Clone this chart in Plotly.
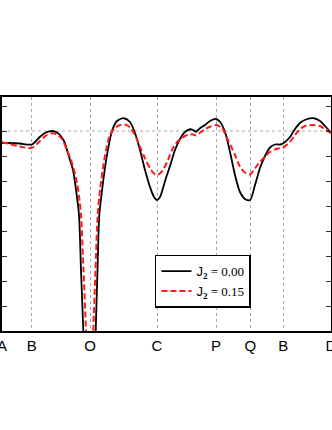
import plotly.graph_objects as go

# k-path (arbitrary path length) and high symmetry points
tick_pos = [0.0, 0.297, 0.88, 1.55, 2.14, 2.483, 2.813, 3.29]
tick_txt = ["A", "B", "O", "C", "P", "Q", "B", "D"]

# J2 = 0.00
k_a = [0.00, 0.08, 0.18, 0.297, 0.38, 0.44, 0.50, 0.54, 0.58, 0.62, 0.65, 0.68, 0.71,
       0.747, 0.77, 0.79, 0.813, 0.84, 0.875, 0.91, 0.937, 0.955, 0.973, 0.995, 1.02,
       1.05, 1.10, 1.15, 1.22, 1.28, 1.33, 1.38, 1.43, 1.48, 1.52, 1.55, 1.58, 1.61,
       1.64, 1.68, 1.73, 1.78, 1.83, 1.88, 1.91, 1.94, 1.98, 2.03, 2.08, 2.14, 2.18,
       2.23, 2.28, 2.33, 2.38, 2.43, 2.48, 2.53, 2.58, 2.63, 2.68, 2.73, 2.78, 2.81,
       2.88, 2.93, 2.98, 3.04, 3.12, 3.18, 3.23, 3.29]
e_a = [7.52, 7.52, 7.50, 7.46, 7.77, 7.94, 8.00, 7.96, 7.84, 7.60, 7.24, 6.84, 6.44,
       5.44, 4.64, 2.44, 0.00, -3.56, -5.96, -3.56, 0.00, 2.44, 4.64, 5.44, 6.24,
       7.04, 8.00, 8.40, 8.51, 8.36, 7.92, 7.24, 6.44, 5.76, 5.36, 5.24, 5.36, 5.72,
       6.12, 6.60, 7.24, 7.68, 7.96, 8.07, 8.04, 7.97, 8.11, 8.24, 8.40, 8.48, 8.37,
       7.96, 7.16, 6.24, 5.56, 5.28, 5.24, 5.84, 6.52, 7.00, 7.34, 7.46, 7.46, 7.50,
       7.76, 8.08, 8.32, 8.46, 8.51, 8.40, 8.20, 7.92]

# J2 = 0.15
k_b = [0.00, 0.08, 0.18, 0.297, 0.38, 0.44, 0.50, 0.55, 0.60, 0.65, 0.69, 0.72, 0.75,
       0.77, 0.79, 0.815, 0.84, 0.86, 0.877, 0.895, 0.913, 0.935, 0.957, 0.98, 1.01,
       1.04, 1.08, 1.13, 1.18, 1.23, 1.28, 1.33, 1.38, 1.43, 1.48, 1.52, 1.55, 1.58,
       1.61, 1.66, 1.70, 1.74, 1.78, 1.83, 1.88, 1.91, 1.94, 1.98, 2.03, 2.08, 2.14,
       2.20, 2.26, 2.33, 2.38, 2.43, 2.48, 2.53, 2.58, 2.63, 2.68, 2.76, 2.81, 2.88,
       2.93, 2.98, 3.03, 3.10, 3.18, 3.23, 3.29]
e_b = [7.55, 7.48, 7.38, 7.33, 7.60, 7.82, 7.91, 7.86, 7.68, 7.24, 6.84, 6.44, 5.92,
       5.40, 4.64, 2.44, 0.00, -2.36, -3.56, -2.36, 0.00, 2.44, 4.64, 5.64, 6.52,
       7.24, 7.84, 8.12, 8.24, 8.26, 8.14, 7.84, 7.37, 6.91, 6.51, 6.30, 6.24, 6.30,
       6.44, 6.84, 7.24, 7.50, 7.67, 7.80, 7.87, 7.86, 7.82, 7.93, 8.07, 8.17, 8.24,
       8.11, 7.64, 7.04, 6.57, 6.33, 6.26, 6.51, 6.77, 6.97, 7.16, 7.30, 7.33, 7.57,
       7.84, 8.07, 8.20, 8.24, 8.20, 8.07, 7.91]

ref_level = 8.0

sans = "Liberation Sans, Arial, sans-serif"
serif = "Liberation Serif, Times New Roman, serif"

def leg_name(val):
    return ("<span style='font-family:" + sans + "'>J</span><sub><b>2</b></sub>"
            "<span style='font-family:" + serif + "'> = " + val + "</span>")

fig = go.Figure()
fig.add_trace(go.Scatter(x=k_a, y=e_a, mode="lines", name=leg_name("0.00"),
                         line=dict(color="black", width=1.8, shape="spline", smoothing=0.8)))
fig.add_trace(go.Scatter(x=k_b, y=e_b, mode="lines", name=leg_name("0.15"),
                         line=dict(color="#ff1a1a", width=2, dash="6px,3px",
                                   shape="spline", smoothing=0.8)))

#reference level
fig.add_hline(y=ref_level, line=dict(color="#a8a8a8", width=1, dash="dot"), layer="below")

fig.update_xaxes(range=[0, 3.29], tickvals=tick_pos, ticktext=tick_txt,
                 showgrid=True, griddash="dot", gridcolor="#a8a8a8", gridwidth=1,
                 showline=True, linecolor="black", linewidth=2, mirror=True,
                 ticks="", zeroline=False, automargin=False,
                 ticklabeloverflow="allow",
                 tickfont=dict(family=sans, size=15, color="black"))
fig.update_yaxes(range=[0, 9.36], dtick=1, tick0=0, showticklabels=False,
                 showgrid=False, zeroline=False, automargin=False,
                 showline=True, linecolor="black", linewidth=2, mirror="ticks",
                 ticks="inside", ticklen=5, tickcolor="#333", tickwidth=1)

fig.update_layout(
    width=332, height=430,
    margin=dict(l=2, r=1, t=97, b=99),
    plot_bgcolor="white", paper_bgcolor="white",
    legend=dict(x=0.465, y=0.326, xanchor="left", yanchor="top",
                bgcolor="white", bordercolor="black", borderwidth=1.5,
                font=dict(family=serif, size=13, color="black"),
                itemwidth=30, tracegroupgap=0),
)

#page has a default body margin, drop it so the figure fills the window
fix_page = ("document.body.style.margin='0';document.body.style.overflow='hidden';"
            "Plotly.relayout(document.getElementById('{plot_id}'),{width:332,height:430});")

fig.write_html("out.html", post_script=fix_page, config={"displayModeBar": False})
